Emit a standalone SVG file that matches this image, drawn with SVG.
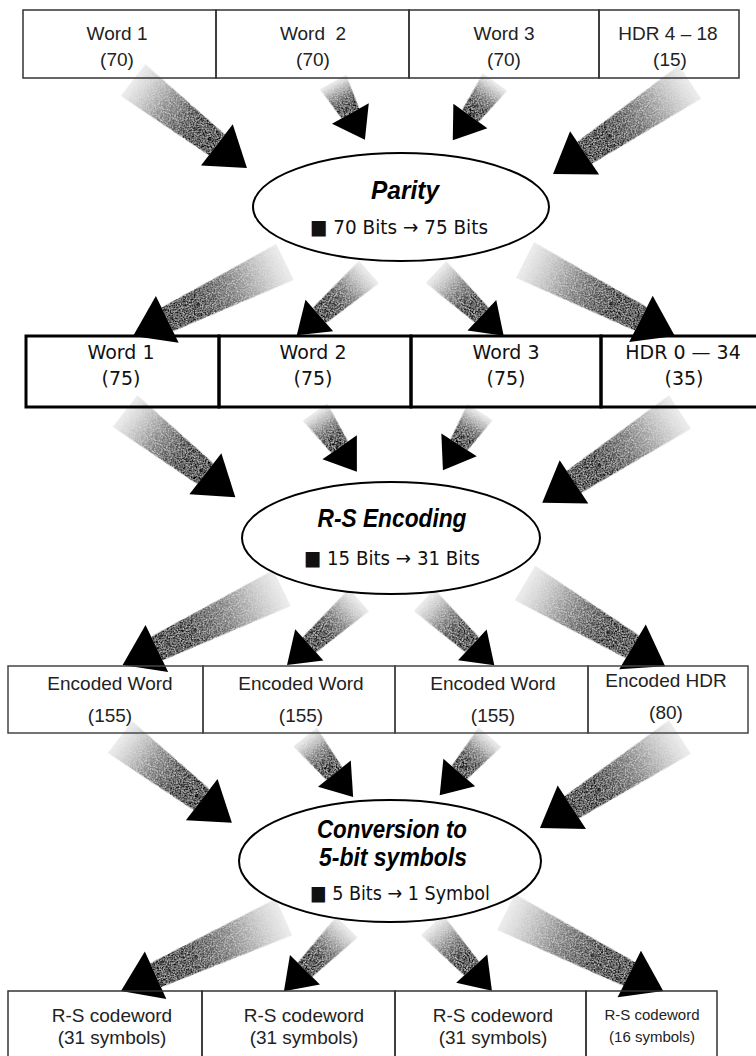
<svg xmlns="http://www.w3.org/2000/svg" width="756" height="1056" viewBox="0 0 756 1056">
<defs>
<linearGradient id="shaft" x1="0" y1="0" x2="1" y2="0">
<stop offset="0" stop-color="#bdbdbd" stop-opacity="0.3"/>
<stop offset="0.4" stop-color="#707070" stop-opacity="0.85"/>
<stop offset="0.75" stop-color="#1a1a1a" stop-opacity="1"/>
<stop offset="1" stop-color="#000000" stop-opacity="1"/>
</linearGradient>
<filter id="grain" x="-5%" y="-5%" width="110%" height="110%">
<feTurbulence type="fractalNoise" baseFrequency="0.9" numOctaves="1" seed="3" result="n"/>
<feColorMatrix in="n" type="matrix" values="0 0 0 0 1  0 0 0 0 1  0 0 0 0 1  0 0 0 -2.2 1.2" result="w"/>
<feComposite in="w" in2="SourceGraphic" operator="in" result="ws"/>
<feMerge><feMergeNode in="SourceGraphic"/><feMergeNode in="ws"/></feMerge>
</filter>
</defs>
<style>
.cell1{fill:none;stroke:#333;stroke-width:1.5}
.cell2{fill:none;stroke:#000;stroke-width:3}
.cell3{fill:none;stroke:#444;stroke-width:1.5}
.sh{fill:url(#shaft);filter:url(#grain)}
.hd{fill:#000}
.ell{fill:#fff;stroke:#000;stroke-width:2}
.t1{font-family:"Liberation Sans",Arial,sans-serif;font-size:19px;fill:#222;text-anchor:middle;white-space:pre}
.t2{font-family:"DejaVu Sans",Verdana,sans-serif;font-size:19px;fill:#111;text-anchor:middle}
.t3{font-family:"Liberation Sans",Arial,sans-serif;font-size:19px;fill:#222;text-anchor:middle}
.t4s{font-family:"Liberation Sans",Arial,sans-serif;font-size:15px;fill:#222;text-anchor:middle}
.title{font-family:"Liberation Sans",Arial,sans-serif;font-size:26px;font-weight:bold;font-style:italic;fill:#000;text-anchor:middle}
.sub{font-family:"DejaVu Sans",sans-serif;font-size:20px;fill:#111}
</style>
<rect width="756" height="1056" fill="#fff"/>
<g id="connectors">
<g transform="translate(133,80) rotate(37.7)"><polygon class="sh" points="0,-20 106,-13 106,13 0,20"/><polygon class="hd" points="106,-26 144,0 106,26"/></g>
<g transform="translate(333,82) rotate(61.1)"><polygon class="sh" points="0,-15 36,-10 36,10 0,15"/><polygon class="hd" points="36,-21 66,0 36,21"/></g>
<g transform="translate(495,82) rotate(125.9)"><polygon class="sh" points="0,-15 42,-10 42,10 0,15"/><polygon class="hd" points="42,-21 72,0 42,21"/></g>
<g transform="translate(690,82) rotate(146.1)"><polygon class="sh" points="0,-20 127,-13 127,13 0,20"/><polygon class="hd" points="127,-26 165,0 127,26"/></g>
<g transform="translate(285,262) rotate(154)"><polygon class="sh" points="0,-20 131,-13 131,13 0,20"/><polygon class="hd" points="131,-26 169,0 131,26"/></g>
<g transform="translate(369,272) rotate(138.8)"><polygon class="sh" points="0,-15 66,-10 66,10 0,15"/><polygon class="hd" points="66,-21 96,0 66,21"/></g>
<g transform="translate(436,272) rotate(43.3)"><polygon class="sh" points="0,-15 63,-10 63,10 0,15"/><polygon class="hd" points="63,-21 93,0 63,21"/></g>
<g transform="translate(525,260) rotate(26.9)"><polygon class="sh" points="0,-20 130,-13 130,13 0,20"/><polygon class="hd" points="130,-26 168,0 130,26"/></g>
<g transform="translate(125,411) rotate(38)"><polygon class="sh" points="0,-20 102,-13 102,13 0,20"/><polygon class="hd" points="102,-26 140,0 102,26"/></g>
<g transform="translate(315,412) rotate(55)"><polygon class="sh" points="0,-15 43,-10 43,10 0,15"/><polygon class="hd" points="43,-21 73,0 43,21"/></g>
<g transform="translate(480,412) rotate(122.5)"><polygon class="sh" points="0,-15 39,-10 39,10 0,15"/><polygon class="hd" points="39,-21 69,0 39,21"/></g>
<g transform="translate(680,412) rotate(146.6)"><polygon class="sh" points="0,-20 127,-13 127,13 0,20"/><polygon class="hd" points="127,-26 165,0 127,26"/></g>
<g transform="translate(282,588) rotate(154.2)"><polygon class="sh" points="0,-20 139,-13 139,13 0,20"/><polygon class="hd" points="139,-26 177,0 139,26"/></g>
<g transform="translate(359,600) rotate(137.9)"><polygon class="sh" points="0,-15 67,-10 67,10 0,15"/><polygon class="hd" points="67,-21 97,0 67,21"/></g>
<g transform="translate(424,600) rotate(42.9)"><polygon class="sh" points="0,-15 66,-10 66,10 0,15"/><polygon class="hd" points="66,-21 96,0 66,21"/></g>
<g transform="translate(525,583) rotate(30.7)"><polygon class="sh" points="0,-20 125,-13 125,13 0,20"/><polygon class="hd" points="125,-26 163,0 125,26"/></g>
<g transform="translate(120,737) rotate(37.5)"><polygon class="sh" points="0,-20 103,-13 103,13 0,20"/><polygon class="hd" points="103,-26 141,0 103,26"/></g>
<g transform="translate(305,737) rotate(51.3)"><polygon class="sh" points="0,-15 47,-10 47,10 0,15"/><polygon class="hd" points="47,-21 77,0 47,21"/></g>
<g transform="translate(490,737) rotate(130.8)"><polygon class="sh" points="0,-15 47,-10 47,10 0,15"/><polygon class="hd" points="47,-21 77,0 47,21"/></g>
<g transform="translate(680,737) rotate(147)"><polygon class="sh" points="0,-20 129,-13 129,13 0,20"/><polygon class="hd" points="129,-26 167,0 129,26"/></g>
<g transform="translate(284,917) rotate(155.6)"><polygon class="sh" points="0,-20 141,-13 141,13 0,20"/><polygon class="hd" points="141,-26 179,0 141,26"/></g>
<g transform="translate(347,927) rotate(134.5)"><polygon class="sh" points="0,-15 60,-10 60,10 0,15"/><polygon class="hd" points="60,-21 90,0 60,21"/></g>
<g transform="translate(432,925) rotate(47.7)"><polygon class="sh" points="0,-15 59,-10 59,10 0,15"/><polygon class="hd" points="59,-21 89,0 59,21"/></g>
<g transform="translate(506,912) rotate(26.7)"><polygon class="sh" points="0,-20 138,-13 138,13 0,20"/><polygon class="hd" points="138,-26 176,0 138,26"/></g>
</g>
<g id="row1-word1"><rect class="cell1" x="23" y="10" width="193" height="68"/><text class="t1" x="117" y="40">Word 1</text><text class="t1" x="117" y="66">(70)</text></g>
<g id="row1-word2"><rect class="cell1" x="216" y="10" width="193" height="68"/><text class="t1" x="313" y="40">Word  2</text><text class="t1" x="313" y="66">(70)</text></g>
<g id="row1-word3"><rect class="cell1" x="409" y="10" width="190" height="68"/><text class="t1" x="504" y="40">Word 3</text><text class="t1" x="504" y="66">(70)</text></g>
<g id="row1-hdr"><rect class="cell1" x="599" y="10" width="140" height="68"/><text class="t1" x="668" y="40">HDR 4 – 18</text><text class="t1" x="670" y="66">(15)</text></g>
<g id="parity"><ellipse class="ell" cx="401" cy="207" rx="148" ry="54"/><text class="title" x="405" y="199" textLength="68" lengthAdjust="spacingAndGlyphs">Parity</text><text class="sub" x="310" y="234" textLength="178" lengthAdjust="spacingAndGlyphs">■ 70 Bits → 75 Bits</text></g>
<g id="row2-word1"><rect class="cell2" x="26" y="336" width="193" height="71"/><text class="t2" x="121" y="359">Word 1</text><text class="t2" x="121" y="385">(75)</text></g>
<g id="row2-word2"><rect class="cell2" x="219" y="336" width="192" height="71"/><text class="t2" x="313" y="359">Word 2</text><text class="t2" x="313" y="385">(75)</text></g>
<g id="row2-word3"><rect class="cell2" x="411" y="336" width="190" height="71"/><text class="t2" x="506" y="359">Word 3</text><text class="t2" x="506" y="385">(75)</text></g>
<g id="row2-hdr"><rect class="cell2" x="601" y="336" width="160" height="71"/><text class="t2" x="683" y="359">HDR 0 — 34</text><text class="t2" x="684" y="385">(35)</text></g>
<g id="rs-encoding"><ellipse class="ell" cx="391" cy="538" rx="149" ry="56"/><text class="title" x="392" y="527" textLength="149" lengthAdjust="spacingAndGlyphs">R-S Encoding</text><text class="sub" x="304" y="565" textLength="176" lengthAdjust="spacingAndGlyphs">■ 15 Bits → 31 Bits</text></g>
<g id="row3-enc1"><rect class="cell3" x="8" y="666" width="195" height="67"/><text class="t3" x="110" y="690">Encoded Word</text><text class="t3" x="110" y="722">(155)</text></g>
<g id="row3-enc2"><rect class="cell3" x="203" y="666" width="192" height="67"/><text class="t3" x="301" y="690">Encoded Word</text><text class="t3" x="301" y="722">(155)</text></g>
<g id="row3-enc3"><rect class="cell3" x="395" y="666" width="193" height="67"/><text class="t3" x="493" y="690">Encoded Word</text><text class="t3" x="493" y="722">(155)</text></g>
<g id="row3-hdr"><rect class="cell3" x="588" y="666" width="160" height="67"/><text class="t3" x="666" y="687">Encoded HDR</text><text class="t3" x="666" y="719">(80)</text></g>
<g id="conversion"><ellipse class="ell" cx="390" cy="861" rx="151" ry="61"/><text class="title" x="392" y="838" textLength="150" lengthAdjust="spacingAndGlyphs">Conversion to</text><text class="title" x="393" y="866" textLength="148" lengthAdjust="spacingAndGlyphs">5-bit symbols</text><text class="sub" x="310" y="900" textLength="180" lengthAdjust="spacingAndGlyphs">■ 5 Bits → 1 Symbol</text></g>
<g id="row4-cw1"><rect class="cell1" x="8" y="991" width="194" height="72"/><text class="t3" x="112" y="1022">R-S codeword</text><text class="t3" x="112" y="1044">(31 symbols)</text></g>
<g id="row4-cw2"><rect class="cell1" x="202" y="991" width="193" height="72"/><text class="t3" x="304" y="1022">R-S codeword</text><text class="t3" x="304" y="1044">(31 symbols)</text></g>
<g id="row4-cw3"><rect class="cell1" x="395" y="991" width="191" height="72"/><text class="t3" x="493" y="1022">R-S codeword</text><text class="t3" x="493" y="1044">(31 symbols)</text></g>
<g id="row4-cw4"><rect class="cell1" x="586" y="991" width="131" height="72"/><text class="t4s" x="652" y="1020">R-S codeword</text><text class="t4s" x="652" y="1042">(16 symbols)</text></g>
</svg>
